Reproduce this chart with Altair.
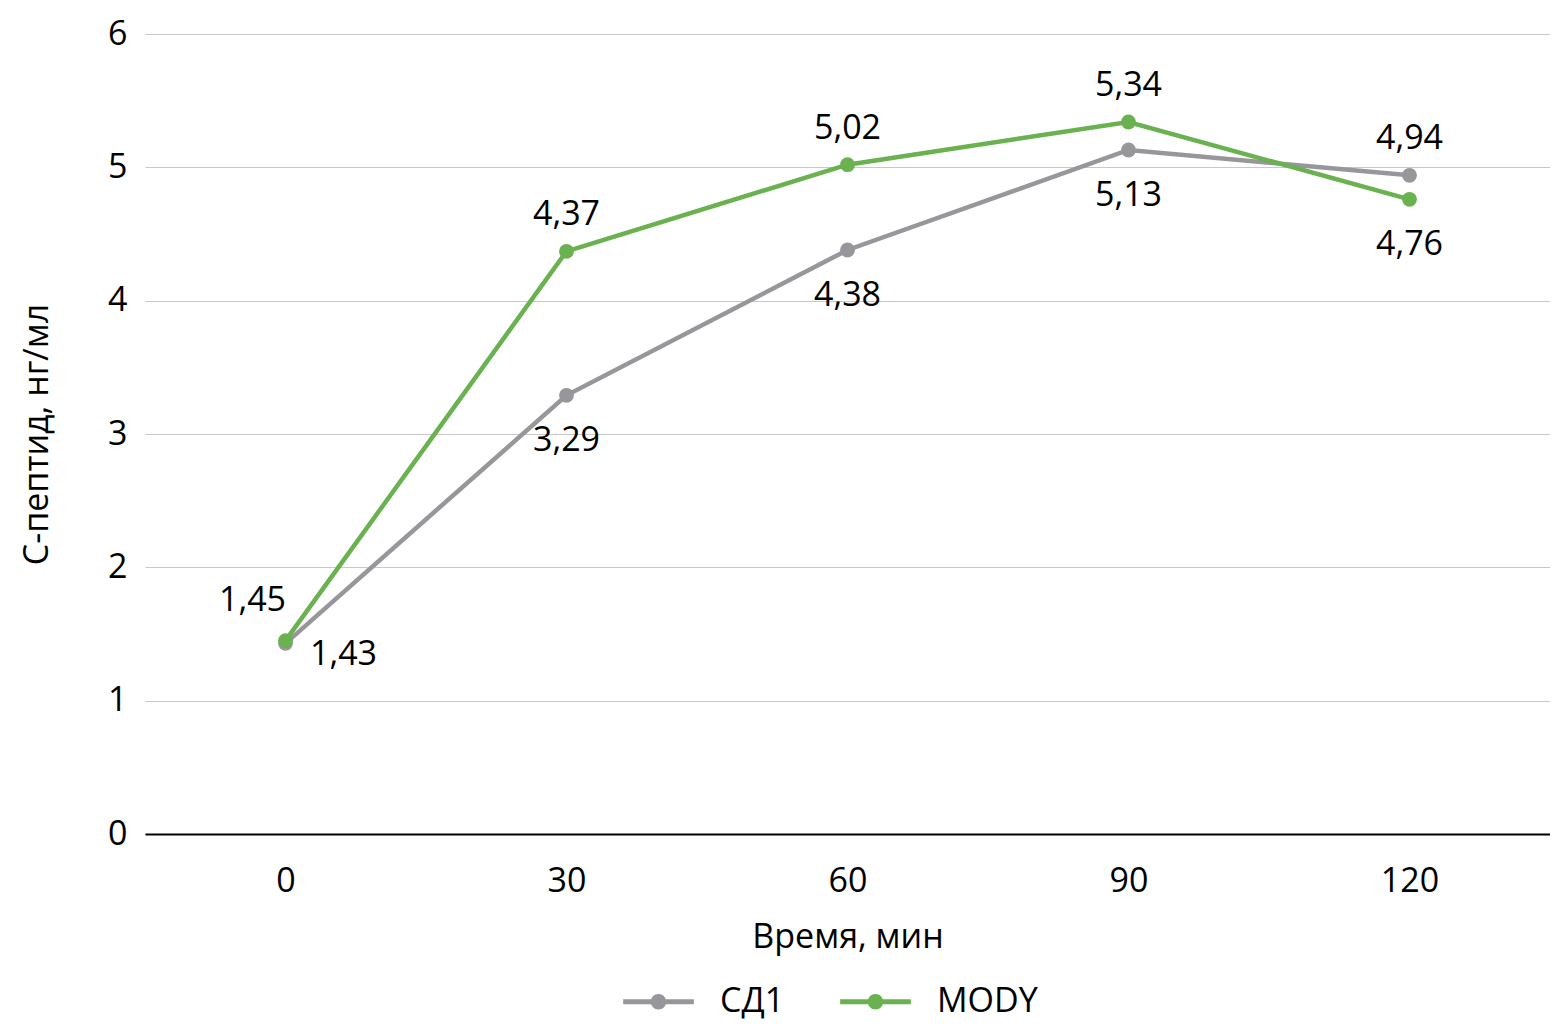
import altair as alt
import pandas as pd

times = [0, 30, 60, 90, 120]
sd1 = [1.43, 3.29, 4.38, 5.13, 4.94]
mody = [1.45, 4.37, 5.02, 5.34, 4.76]
sd1_place = ["below-right", "below", "below", "below", "above"]
mody_place = ["above-left", "above", "above", "above", "below"]
series = ["СД1", "MODY"]
colors = ["#97979b", "#6ab150"]
y_ticks = [0, 1, 2, 3, 4, 5, 6]

rows = []
for name, vals, places in [(series[0], sd1, sd1_place), (series[1], mody, mody_place)]:
    for t, v, p in zip(times, vals, places):
        rows.append({"t": t, "v": v, "s": name, "place": p,
                     "label": f"{v:.2f}".replace(".", ",")})
df = pd.DataFrame(rows)

FONT = "Open Sans"
FS = 34

color = alt.Color("s:N", scale=alt.Scale(domain=series, range=colors),
                  sort=series,
                  legend=alt.Legend(
                      title=None, orient="none", direction="horizontal",
                      legendX=478, legendY=932,
                      labelFontSize=FS, labelFont=FONT, labelColor="#000000",
                      symbolType="M-1,-0.07H1V0.07H-1Z M0.22,0A0.22,0.22 0 1,1 -0.22,0A0.22,0.22 0 1,1 0.22,0Z",
                      symbolSize=5000, symbolStrokeWidth=0, symbolOpacity=1,
                      columnPadding=55, labelOffset=26))

x = alt.X("t:O", scale=alt.Scale(padding=0.5),
          axis=alt.Axis(title="Время, мин", labelAngle=0, ticks=False,
                        domainColor="#000000", domainWidth=2,
                        labelPadding=30, titlePadding=22))
y = alt.Y("v:Q", scale=alt.Scale(domain=[0, 6]),
          axis=alt.Axis(title="С-пептид, нг/мл", values=y_ticks, format="d",
                        labelOverlap=False,
                        domain=False, ticks=False, gridColor="#c8c8c8",
                        gridWidth=1.2, labelPadding=18, titlePadding=53))

base = alt.Chart(df).encode(x=x, y=y, color=color)
lines = base.mark_line(strokeWidth=4.5)
points = base.mark_point(filled=True, size=220, opacity=1)

def lab(place, dx, dy):
    return alt.Chart(df).transform_filter(alt.datum.place == place).mark_text(
        fontSize=FS, font=FONT, color="#000000", dx=dx, dy=dy, baseline="middle"
    ).encode(x="t:O", y="v:Q", text="label:N")

chart = alt.layer(
    lines, points,
    lab("above", 0, -36), lab("below", 0, 46),
    lab("above-left", -33, -40), lab("below-right", 58, 12),
).properties(width=1405, height=800, padding={"left": 12, "top": 9, "right": 0, "bottom": 8}
).configure_axis(
    labelFont=FONT, titleFont=FONT, labelFontSize=FS, titleFontSize=FS,
    labelColor="#000000", titleColor="#000000", titleFontWeight="normal"
).configure_view(stroke=None)

chart.save("out.html", embed_options={"renderer": "svg", "actions": False})
